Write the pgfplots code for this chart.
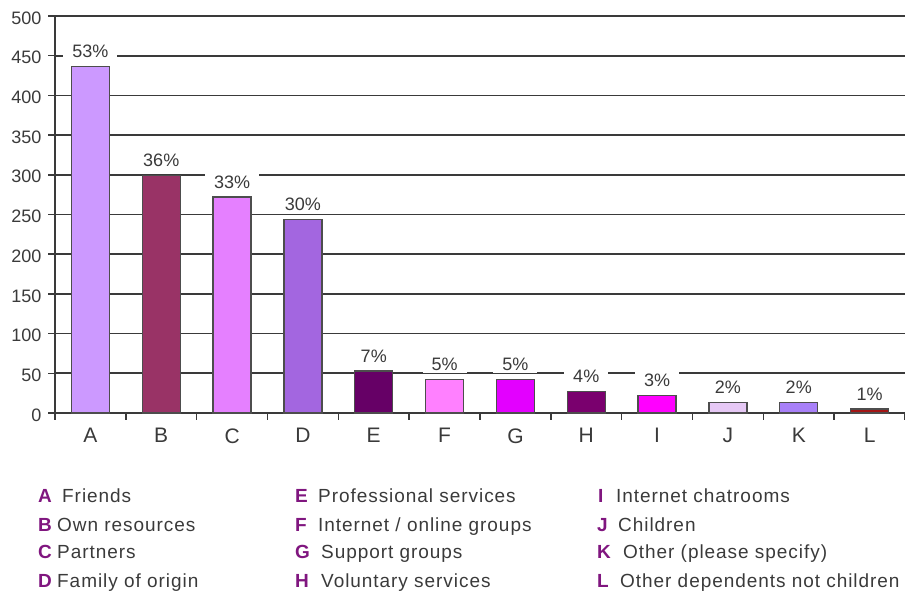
\documentclass[border=0pt]{standalone}
\usepackage{pgfplots}
\pgfplotsset{compat=1.18}
\usepackage{fontspec}
\setmainfont{Liberation Sans}
\newfontfamily\legfont[LetterSpace=5]{Liberation Sans}

\definecolor{cA}{HTML}{CC99FF}
\definecolor{cB}{HTML}{993366}
\definecolor{cC}{HTML}{E580FF}
\definecolor{cD}{HTML}{A366E0}
\definecolor{cE}{HTML}{660066}
\definecolor{cF}{HTML}{FF80FF}
\definecolor{cG}{HTML}{E300FF}
\definecolor{cH}{HTML}{7A006E}
\definecolor{cI}{HTML}{FF00FF}
\definecolor{cJ}{HTML}{E6C8F5}
\definecolor{cK}{HTML}{A880F8}
\definecolor{cL}{HTML}{A31515}
\definecolor{gridc}{HTML}{3A3A3A}
\definecolor{bard}{HTML}{4D4D4D}
\definecolor{txt}{HTML}{3A3A3A}
\definecolor{leg}{HTML}{80167F}

\begin{document}
\begin{tikzpicture}[x=1pt,y=1pt]
\path[use as bounding box] (-55,-181) rectangle (850,413);
\begin{axis}[
    at={(0,0)}, anchor=south west,
    scale only axis, width=850pt, height=397pt,
    xmin=-0.5, xmax=11.5, ymin=0, ymax=500,
    axis x line*=bottom, axis y line*=left,
    axis line style={gridc, line width=1.8pt},
    ybar, bar width=38pt, bar shift=0pt,
    ytick={0,50,...,500},
    ymajorgrids,
    major grid style={gridc, line width=1.7pt},
    xtick={-0.5,0.5,...,11.5}, xticklabels={},
    extra x ticks={0,...,11},
    extra x tick labels={A,B,C,D,E,F,G,H,I,J,K,L},
    extra x tick style={major tick length=0pt, grid=none},
    tick align=outside, major tick length=7pt,
    tick style={gridc, line width=1.5pt},
    /pgf/number format/assume math mode=true,
    yticklabel style={font=\fontsize{18}{20}\selectfont, text=txt, xshift=-3pt, yshift=-2pt},
    xticklabel style={font=\fontsize{21}{23}\selectfont, text=txt, yshift=-12pt},
    point meta=explicit symbolic,
    nodes near coords,
    every node near coord/.append style={anchor=south, yshift=6pt, fill=white,
        inner xsep=9pt, inner ysep=2pt, text=txt, font=\fontsize{18}{20}\selectfont},
    clip=false,
]
\addplot[fill=cA, draw=bard, line width=1.3pt] coordinates {(0,436) [53\%]};
\addplot[fill=cB, draw=bard, line width=1.3pt] coordinates {(1,299) [36\%]};
\addplot[fill=cC, draw=bard, line width=1.3pt] coordinates {(2,272) [33\%]};
\addplot[fill=cD, draw=bard, line width=1.3pt] coordinates {(3,244) [30\%]};
\addplot[fill=cE, draw=bard, line width=1.3pt] coordinates {(4,53) [7\%]};
\addplot[fill=cF, draw=bard, line width=1.3pt] coordinates {(5,42) [5\%]};
\addplot[fill=cG, draw=bard, line width=1.3pt] coordinates {(6,42) [5\%]};
\addplot[fill=cH, draw=bard, line width=1.3pt] coordinates {(7,27) [4\%]};
\addplot[fill=cI, draw=bard, line width=1.3pt] coordinates {(8,22) [3\%]};
\addplot[fill=cJ, draw=bard, line width=1.3pt] coordinates {(9,13) [2\%]};
\addplot[fill=cK, draw=bard, line width=1.3pt] coordinates {(10,13) [2\%]};
\addplot[fill=cL, draw=bard, line width=1.3pt] coordinates {(11,5) [1\%]};
\end{axis}
% legend below the chart
\begin{scope}[every node/.style={anchor=base west, inner sep=0pt, font=\legfont\fontsize{19}{21}\selectfont}]
\foreach \l/\t/\lx/\tx/\yb in {
    A/Friends/-17/7/-90,
    B/Own resources/-17/2/-118,
    C/Partners/-17/2/-146,
    D/Family of origin/-17/2/-174,
    E/Professional services/240/263/-90,
    F/Internet \slash{} online groups/240/263/-118,
    G/Support groups/240/266/-146,
    H/Voluntary services/240/266/-174,
    I/Internet chatrooms/543/561/-90,
    J/Children/542/563/-118,
    K/Other (please specify)/542/568/-146,
    L/Other dependents not children/542/565/-174}
{
  \node[text=leg] at (\lx,\yb) {\textbf{\l}};
  \node[text=txt] at (\tx,\yb) {\t};
}
\end{scope}
\end{tikzpicture}
\end{document}
